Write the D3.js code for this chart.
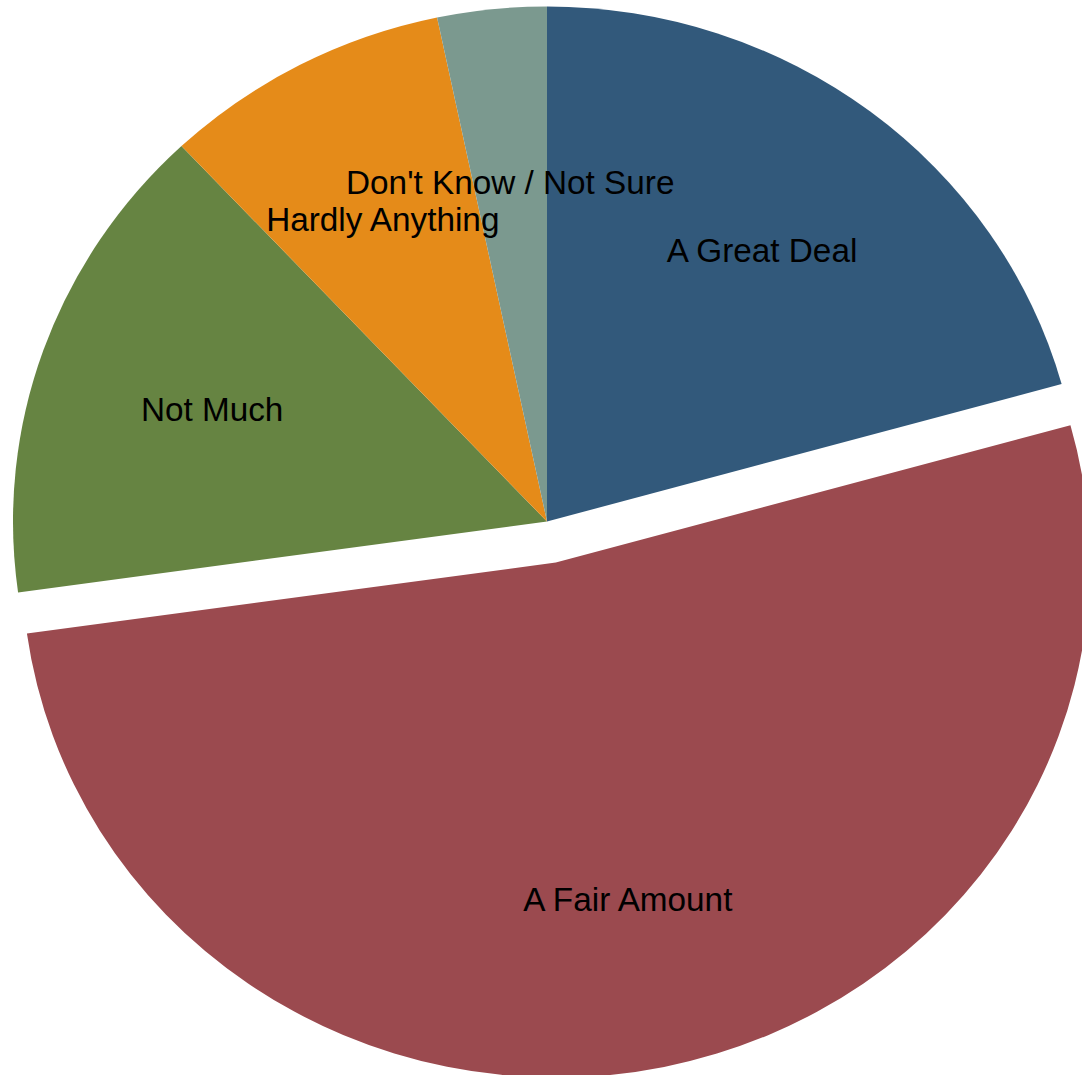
<!DOCTYPE html>
<html>
<head>
<meta charset="utf-8">
<script src="https://cdn.jsdelivr.net/npm/d3@7"></script>
<style>
  html, body { margin: 0; padding: 0; background: #ffffff; }
  svg { display: block; }
</style>
</head>
<body>
<svg id="chart" width="1082" height="1075"></svg>
<script>
// Survey answers, in drawing order (clockwise from 12 o'clock)
const categories = ["A Great Deal", "A Fair Amount", "Not Much", "Hardly Anything", "Don't Know / Not Sure"];
const shares = [20.7, 52.1, 15.2, 8.7, 3.3];
const colors = ["#32597b", "#9b4a4f", "#668442", "#e58b19", "#7b998f"];
const explodedCategory = "A Fair Amount";

const width = 1082, height = 1075;
const cx = 547, cy = 521.5;
const rx = 534, ry = 515;           // the pie is drawn slightly squashed vertically
const yScale = ry / rx;
const explodeDistance = 43.5;
const labelRadius = 0.665 * rx;

const data = categories.map((c, i) => ({ category: c, value: shares[i], color: colors[i] }));

const pie = d3.pie().sort(null).value(d => d.value);
const arcs = pie(data);

const arc = d3.arc().innerRadius(0).outerRadius(rx);
const labelArc = d3.arc().innerRadius(labelRadius).outerRadius(labelRadius);

const svg = d3.select("#chart");

// offset of a slice (in unscaled pie coordinates)
function offset(d) {
  if (d.data.category !== explodedCategory) return [0, 0];
  const mid = (d.startAngle + d.endAngle) / 2;
  return [Math.sin(mid) * explodeDistance, -Math.cos(mid) * explodeDistance];
}

const g = svg.append("g")
  .attr("transform", `translate(${cx},${cy}) scale(1,${yScale})`);

g.selectAll("path.slice")
  .data(arcs)
  .join("path")
  .attr("class", "slice")
  .attr("d", arc)
  .attr("fill", d => d.data.color)
  .attr("transform", d => { const [ox, oy] = offset(d); return `translate(${ox},${oy})`; });

// labels drawn outside the squashed group so the text keeps its proportions
svg.append("g")
  .selectAll("text")
  .data(arcs)
  .join("text")
  .attr("x", d => cx + labelArc.centroid(d)[0] + offset(d)[0])
  .attr("y", d => cy + (labelArc.centroid(d)[1] + offset(d)[1]) * yScale + 2)
  .attr("text-anchor", "middle")
  .attr("dominant-baseline", "central")
  .attr("font-family", "'Liberation Sans', Arial, sans-serif")
  .attr("font-size", 33.3)
  .attr("fill", "#000000")
  .text(d => d.data.category);
</script>
</body>
</html>
